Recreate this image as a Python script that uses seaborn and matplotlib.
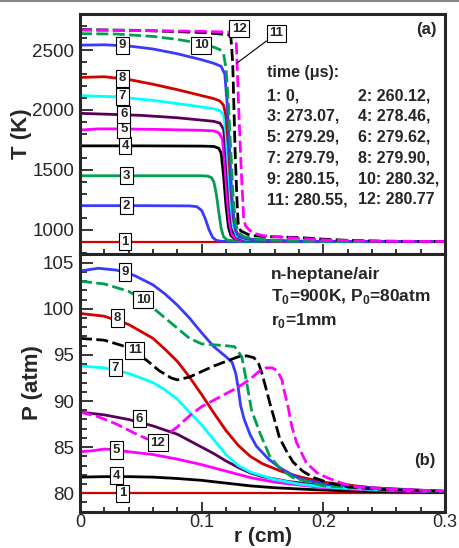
import matplotlib
matplotlib.use("Agg")
import matplotlib.pyplot as plt
from matplotlib.ticker import MultipleLocator, FixedLocator
import seaborn as sns

# curve ids, colours and line styles (1..12)
curve_ids = ["1", "2", "3", "4", "5", "6", "7", "8", "9", "10", "11", "12"]
colors = ["#d40000", "#3a3aff", "#00a050", "#000000", "#ff00ff", "#5a005a",
          "#00ffff", "#d40000", "#3a3aff", "#00a050", "#000000", "#ff00ff"]
dashed = [False] * 9 + [True] * 3

# ---- temperature profiles T(r), panel (a) ----
T_r = {
    "1": [0, 0.1, 0.2, 0.3],
    "2": [0, 0.05, 0.09, 0.096, 0.1, 0.103, 0.106, 0.109, 0.112, 0.116, 0.125, 0.2, 0.3],
    "3": [0, 0.05, 0.1, 0.105, 0.108, 0.110, 0.112, 0.114, 0.116, 0.118, 0.121, 0.13, 0.2, 0.3],
    "4": [0, 0.05, 0.1, 0.110, 0.114, 0.116, 0.118, 0.120, 0.122, 0.124, 0.127, 0.135, 0.16, 0.2, 0.3],
    "5": [0, 0.015, 0.03, 0.06, 0.1, 0.11, 0.114, 0.117, 0.119, 0.121, 0.123, 0.125, 0.128, 0.135, 0.16, 0.2, 0.3],
    "6": [0, 0.05, 0.08, 0.1, 0.11, 0.115, 0.118, 0.12, 0.122, 0.124, 0.126, 0.129, 0.135, 0.16, 0.2, 0.3],
    "7": [0, 0.03, 0.06, 0.09, 0.11, 0.115, 0.118, 0.12, 0.122, 0.124, 0.126, 0.129, 0.135, 0.16, 0.2, 0.3],
    "8": [0, 0.02, 0.04, 0.06, 0.08, 0.1, 0.11, 0.115, 0.118, 0.12, 0.122, 0.124, 0.126, 0.128, 0.131, 0.14, 0.16, 0.2, 0.3],
    "9": [0, 0.02, 0.04, 0.06, 0.08, 0.1, 0.11, 0.116, 0.119, 0.121, 0.123, 0.125, 0.127, 0.129, 0.131, 0.136, 0.145, 0.17, 0.2, 0.3],
    "10": [0, 0.03, 0.06, 0.08, 0.1, 0.11, 0.115, 0.118, 0.12, 0.122, 0.124, 0.126, 0.128, 0.13, 0.135, 0.145, 0.17, 0.2, 0.3],
    "11": [0, 0.05, 0.1, 0.122, 0.124, 0.1255, 0.1275, 0.129, 0.130, 0.132, 0.137, 0.14, 0.15, 0.18, 0.2, 0.22, 0.25, 0.3],
    "12": [0, 0.05, 0.1, 0.126, 0.1285, 0.1305, 0.1325, 0.1345, 0.136, 0.14, 0.143, 0.15, 0.167, 0.19, 0.208, 0.25, 0.3],
}
T_val = {
    "1": [900, 900, 900, 900],
    "2": [1200, 1200, 1198, 1192, 1160, 1090, 1000, 935, 910, 902, 900, 900, 900],
    "3": [1450, 1450, 1450, 1447, 1435, 1400, 1300, 1150, 1010, 940, 912, 903, 900, 900],
    "4": [1700, 1700, 1698, 1695, 1680, 1640, 1450, 1200, 1020, 950, 925, 910, 903, 900, 900],
    "5": [1832, 1842, 1842, 1838, 1830, 1825, 1810, 1760, 1550, 1250, 1050, 960, 925, 910, 903, 900, 900],
    "6": [1972, 1955, 1935, 1915, 1905, 1890, 1840, 1650, 1350, 1100, 980, 935, 915, 905, 900, 900],
    "7": [2120, 2110, 2080, 2040, 2010, 1995, 1960, 1800, 1500, 1200, 1020, 945, 920, 905, 900, 900],
    "8": [2272, 2278, 2255, 2215, 2170, 2120, 2095, 2075, 2040, 1950, 1700, 1350, 1100, 990, 945, 920, 905, 900, 900],
    "9": [2542, 2545, 2535, 2510, 2470, 2420, 2390, 2365, 2300, 2050, 1650, 1250, 1040, 965, 940, 925, 913, 903, 900, 900],
    "10": [2638, 2635, 2615, 2590, 2555, 2525, 2505, 2470, 2350, 2050, 1650, 1250, 1050, 975, 940, 920, 905, 900, 900],
    "11": [2672, 2665, 2648, 2630, 2610, 2400, 1650, 1250, 1050, 990, 965, 952, 943, 933, 920, 910, 903, 900],
    "12": [2668, 2664, 2658, 2650, 2550, 2000, 1500, 1100, 1030, 990, 968, 950, 936, 920, 910, 902, 900],
}

# ---- pressure profiles P(r), panel (b) ----
P_r = {
    "1": [0, 0.1, 0.2, 0.3],
    "4": [0, 0.02, 0.04, 0.06, 0.08, 0.1, 0.12, 0.14, 0.16, 0.19, 0.22, 0.26, 0.3],
    "5": [0, 0.01, 0.02, 0.03, 0.04, 0.06, 0.08, 0.1, 0.12, 0.14, 0.16, 0.18, 0.2, 0.23, 0.26, 0.3],
    "6": [0, 0.02, 0.04, 0.06, 0.08, 0.1, 0.11, 0.12, 0.13, 0.14, 0.15, 0.17, 0.2, 0.24, 0.3],
    "7": [0, 0.02, 0.04, 0.06, 0.07, 0.08, 0.09, 0.1, 0.11, 0.12, 0.13, 0.14, 0.16, 0.18, 0.2, 0.24, 0.3],
    "8": [0, 0.02, 0.04, 0.06, 0.07, 0.08, 0.09, 0.1, 0.11, 0.12, 0.13, 0.14, 0.15, 0.165, 0.18, 0.2, 0.24, 0.3],
    "9": [0, 0.015, 0.03, 0.045, 0.06, 0.07, 0.08, 0.09, 0.1, 0.11, 0.12, 0.125, 0.128, 0.13, 0.132, 0.135, 0.14, 0.145,
          0.155, 0.165, 0.18, 0.2, 0.25, 0.3],
    "10": [0, 0.02, 0.04, 0.05, 0.06, 0.07, 0.08, 0.09, 0.1, 0.11, 0.12, 0.127, 0.133, 0.137, 0.141, 0.148, 0.156,
           0.165, 0.175, 0.2, 0.25, 0.3],
    "11": [0, 0.02, 0.035, 0.045, 0.055, 0.065, 0.075, 0.08, 0.09, 0.1, 0.11, 0.12, 0.13, 0.137, 0.143, 0.147, 0.15,
           0.153, 0.156, 0.159, 0.164, 0.17, 0.175, 0.183, 0.192, 0.205, 0.22, 0.25, 0.3],
    "12": [0, 0.015, 0.03, 0.045, 0.055, 0.062, 0.07, 0.08, 0.09, 0.1, 0.11, 0.12, 0.13, 0.14, 0.148, 0.153, 0.158,
           0.162, 0.166, 0.168, 0.171, 0.174, 0.178, 0.186, 0.195, 0.203, 0.215, 0.227, 0.25, 0.3],
}
P_val = {
    "1": [80, 80, 80, 80],
    "4": [81.75, 81.8, 81.8, 81.75, 81.6, 81.4, 81.1, 80.8, 80.6, 80.4, 80.25, 80.15, 80.1],
    "5": [84.5, 84.6, 84.8, 84.7, 84.5, 84.2, 83.7, 83.1, 82.4, 81.7, 81.2, 80.9, 80.6, 80.4, 80.25, 80.15],
    "6": [88.8, 88.5, 88.0, 87.3, 86.4, 85.0, 84.3, 83.5, 82.8, 82.2, 81.8, 81.3, 80.8, 80.4, 80.2],
    "7": [93.8, 93.6, 93.0, 92.0, 91.2, 90.2, 88.8, 87.4, 85.8, 84.2, 83.0, 82.3, 81.5, 81.0, 80.7, 80.4, 80.2],
    "8": [99.5, 99.2, 98.3, 96.8, 95.6, 94.3, 92.6, 90.7, 88.7, 86.8, 85.2, 84.0, 83.2, 82.4, 81.8, 81.2, 80.6, 80.2],
    "9": [104.1, 104.4, 104.2, 103.6, 102.6, 101.6, 100.4, 99.0, 97.4, 95.9, 94.8, 94.2, 93.0, 91.5, 89.5, 88.0, 86.3,
          85.1, 83.7, 82.7, 81.6, 81.0, 80.5, 80.2],
    "10": [103.0, 102.7, 101.9, 101.1, 100.1, 99.0, 97.9, 96.8, 96.2, 96.1, 96.0, 95.9, 94.8, 92.0, 89.0, 86.5, 84.0,
           82.6, 81.7, 80.8, 80.4, 80.2],
    "11": [96.8, 96.6, 96.0, 95.3, 94.4, 93.3, 92.5, 92.3, 92.6, 93.2, 93.8, 94.3, 94.8, 94.9, 94.7, 94.0, 92.8, 91.3,
           89.8, 88.4, 86.0, 84.5, 83.4, 82.4, 81.7, 81.1, 80.7, 80.4, 80.2],
    "12": [88.8, 88.3, 87.5, 86.5, 85.9, 85.7, 86.2, 87.2, 88.4, 89.4, 90.1, 90.8, 91.5, 92.4, 93.3, 93.6, 93.6, 93.3,
           92.3, 91.0, 89.4, 87.3, 85.5, 83.3, 82.2, 81.7, 81.1, 80.7, 80.45, 80.25],
}

# boxed curve labels: (r, value)
T_labels = {"1": (0.037, 900), "2": (0.038, 1200), "3": (0.038, 1450), "4": (0.037, 1700),
            "5": (0.036, 1838), "6": (0.036, 1965), "7": (0.035, 2115), "8": (0.035, 2265),
            "9": (0.035, 2540), "10": (0.0995, 2542), "12": (0.131, 2680)}
T_label11 = (0.1616, 2640)
T_label11_target = (0.1287, 2390)
P_labels = {"9": (0.037, 104.0), "10": (0.052, 101.0), "8": (0.031, 99.0), "11": (0.045, 95.5),
            "7": (0.029, 93.6), "6": (0.049, 88.1), "12": (0.064, 85.5), "5": (0.030, 84.7),
            "4": (0.030, 81.9), "1": (0.035, 80.0)}

times_left = ["1: 0,", "3: 273.07,", "5: 279.29,", "7: 279.79,", "9: 280.15,", "11: 280.55,"]
times_right = ["2: 260.12,", "4: 278.46,", "6: 279.62,", "8: 279.90,", "10: 280.32,", "12: 280.77"]

sns.set_style("ticks")
plt.rcParams["font.family"] = ["Liberation Sans", "DejaVu Sans"]
plt.rcParams["mathtext.fontset"] = "custom"
plt.rcParams["mathtext.rm"] = "Liberation Sans"
plt.rcParams["mathtext.bf"] = "Liberation Sans:bold"

W, H = 459, 548
fig = plt.figure(figsize=(W / 100, H / 100), dpi=100)
left, right = 80 / W, 365 / W
ax1 = fig.add_axes([left, 1 - 253.5 / H, right, (253.5 - 14.3) / H])
ax2 = fig.add_axes([left, 1 - 511.7 / H, right, (511.7 - 253.5) / H])

def draw(ax, rs, vals):
    for cid, col, dsh in zip(curve_ids, colors, dashed):
        if cid not in rs:
            continue
        ls = (0, (4.3, 1.6)) if dsh else "-"
        lw = 1.6 if cid == "1" else 2.0
        sns.lineplot(x=rs[cid], y=vals[cid], ax=ax, color=col, lw=lw, linestyle=ls,
                     sort=False, estimator=None, errorbar=None, legend=False)

draw(ax1, T_r, T_val)
draw(ax2, P_r, P_val)

box = dict(boxstyle="square,pad=0.2", fc="white", ec="black", lw=0.8)
lab_fs = 9.5
for k, (x, y) in T_labels.items():
    ax1.text(x, y, k, ha="center", va="center", fontsize=lab_fs, fontweight="bold", bbox=box, zorder=5)
ax1.annotate("11", xy=T_label11_target, xytext=T_label11, ha="center", va="center",
             fontsize=lab_fs, fontweight="bold", bbox=box, zorder=5,
             arrowprops=dict(arrowstyle="-", color="black", lw=0.8, shrinkA=0, shrinkB=0))
for k, (x, y) in P_labels.items():
    ax2.text(x, y, k, ha="center", va="center", fontsize=lab_fs, fontweight="bold", bbox=box, zorder=5)

# annotation text
ax1.text(0.5115, 0.756, "time (\u03bcs):", transform=ax1.transAxes, fontsize=11.5,
         fontweight="bold", va="center", ha="left")
row_y = [0.660, 0.573, 0.486, 0.398, 0.311, 0.224]
for yy, a, b in zip(row_y, times_left, times_right):
    ax1.text(0.5115, yy, a, transform=ax1.transAxes, fontsize=11.5, fontweight="bold", va="center")
    ax1.text(0.7625, yy, b, transform=ax1.transAxes, fontsize=11.5, fontweight="bold", va="center")
ax1.text(0.950, 0.937, "(a)", transform=ax1.transAxes, fontsize=12, fontweight="bold",
         ha="center", va="center")

ax2.text(0.5225, 0.917, "n-heptane/air", transform=ax2.transAxes, fontsize=12.5,
         fontweight="bold", va="center")
ax2.text(0.5225, 0.833, r"T$_{\mathbf{0}}$=900K, P$_{\mathbf{0}}$=80atm", transform=ax2.transAxes,
         fontsize=12.5, fontweight="bold", va="center")
ax2.text(0.5225, 0.742, r"r$_{\mathbf{0}}$=1mm", transform=ax2.transAxes, fontsize=12.5,
         fontweight="bold", va="center")
ax2.text(0.945, 0.200, "(b)", transform=ax2.transAxes, fontsize=12, fontweight="bold",
         ha="center", va="center")

# axes styling
ax1.set_xlim(0, 0.3)
ax1.set_ylim(800, 2800)
ax2.set_xlim(0, 0.3)
ax2.set_ylim(78, 106)
ax1.yaxis.set_major_locator(FixedLocator([1000, 1500, 2000, 2500]))
ax1.yaxis.set_minor_locator(MultipleLocator(100))
ax2.yaxis.set_major_locator(MultipleLocator(5))
ax2.yaxis.set_minor_locator(MultipleLocator(1))
for ax in (ax1, ax2):
    ax.xaxis.set_major_locator(MultipleLocator(0.1))
    ax.xaxis.set_minor_locator(MultipleLocator(0.02))
    for s in ax.spines.values():
        s.set_visible(True)
        s.set_linewidth(2.2)
    ax.tick_params(axis="both", which="both", direction="in", top=False, right=False, width=1.3)
    ax.tick_params(axis="y", which="major", length=9, pad=4, labelsize=13.5)
    ax.tick_params(axis="y", which="minor", length=5)
    ax.tick_params(axis="x", which="major", length=7, pad=1.5, labelsize=13)
    ax.tick_params(axis="x", which="minor", length=3.5)
    ax.grid(False)

ax1.tick_params(axis="x", labelbottom=False)
ax2.set_xticks([0, 0.1, 0.2, 0.3])
ax2.set_xticklabels(["0", "0.1", "0.2", "0.3"])
ax1.set_xlabel("")
ax1.set_ylabel("T (K)", fontsize=16, fontweight="bold", labelpad=0)
ax2.set_ylabel("P (atm)", fontsize=16, fontweight="bold", labelpad=0)
ax2.set_xlabel("r (cm)", fontsize=15, fontweight="bold", labelpad=-3)

# thin grey frame line at the very top
fig.add_artist(plt.Line2D([0, 1], [0.998, 0.998], transform=fig.transFigure, color="#888888", lw=1.5))

fig.savefig("out.png", dpi=100)
